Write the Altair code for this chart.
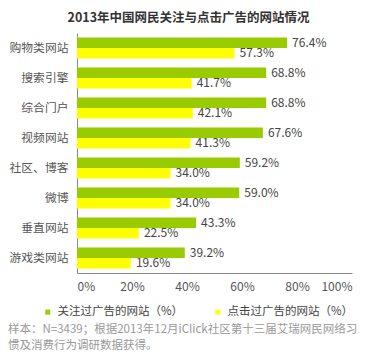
import altair as alt
import pandas as pd

categories = ["购物类网站", "搜索引擎", "综合门户", "视频网站", "社区、博客", "微博", "垂直网站", "游戏类网站"]
attention = [76.4, 68.8, 68.8, 67.6, 59.2, 59.0, 43.3, 39.2]
clicked = [57.3, 41.7, 42.1, 41.3, 34.0, 34.0, 22.5, 19.6]
series = ["关注过广告的网站（%）", "点击过广告的网站（%）"]
colors = ["#99CC00", "#FFFF00"]
x_ticks = [0, 20, 40, 60, 80, 100]
title = "2013年中国网民关注与点击广告的网站情况"
footnote = ["样本：N=3439；根据2013年12月iClick社区第十三届艾瑞网民网络习", "惯及消费行为调研数据获得。"]

rows = []
for c, a, k in zip(categories, attention, clicked):
    rows.append({"cat": c, "series": series[0], "v": a, "label": f"{a:.1f}%"})
    rows.append({"cat": c, "series": series[1], "v": k, "label": f"{k:.1f}%"})
df = pd.DataFrame(rows)

FONT = "Noto Sans CJK SC"

y_enc = alt.Y("cat:N", sort=categories,
              scale=alt.Scale(paddingInner=0.3, paddingOuter=0.15),
              axis=alt.Axis(title=None, ticks=False, domainColor="#888888", labelPadding=9,
                            labelFontSize=11.8, labelColor="#555555", labelFont=FONT))
yoff = alt.YOffset("series:N", sort=series)
x_enc = alt.X("v:Q", scale=alt.Scale(domain=[0, 100]),
              axis=alt.Axis(title=None, values=x_ticks, ticks=False, grid=False,
                            labelExpr="datum.value + '%'", domainColor="#888888",
                            labelPadding=8, labelFontSize=12, labelColor="#555555", labelFont=FONT))

bars = alt.Chart(df).mark_bar().encode(
    y=y_enc, yOffset=yoff, x=x_enc,
    color=alt.Color("series:N", sort=series, scale=alt.Scale(domain=series, range=colors),
                    legend=alt.Legend(title=None, orient="none", direction="horizontal",
                                      legendX=-35, legendY=273, symbolType="square",
                                      symbolSize=25, symbolStrokeWidth=0, labelFontSize=11.5,
                                      labelColor="#444444", labelFont=FONT, columnPadding=28,
                                      symbolOffset=0, labelOffset=4)),
)

texts = alt.Chart(df).mark_text(align="left", dx=5, fontSize=12, color="#444444", font=FONT).encode(
    y=alt.Y("cat:N", sort=categories), yOffset=yoff, x="v:Q", text="label:N"
)

note = alt.Chart(pd.DataFrame({"t": [0]})).mark_text(
    align="left", baseline="top", fontSize=11.5, color="#999999", font=FONT, lineHeight=15.5
).encode(x=alt.value(-69), y=alt.value(291), text=alt.value(footnote))

chart = alt.layer(bars, texts, note).properties(
    width=275, height=240,
    autosize=alt.AutoSizeParams(type="none"),
    padding={"left": 69, "top": 25, "right": 16, "bottom": 81},
    title=alt.TitleParams(title, anchor="middle", dx=-26, offset=9, fontSize=12.5,
                          fontWeight="bold", color="#333333", font=FONT),
).configure_view(stroke=None)

chart.save("out.html", embed_options={"renderer": "svg", "actions": False})
